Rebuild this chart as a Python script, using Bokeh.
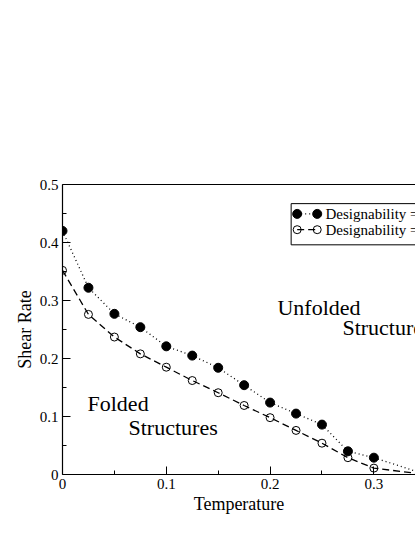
from bokeh.plotting import figure
from bokeh.models import Range1d, LinearAxis, FixedTicker, ColumnDataSource
from bokeh.core.properties import value
from bokeh.embed import file_html
from bokeh.resources import INLINE

# ---- data ----
temperature = [0.0, 0.025, 0.05, 0.075, 0.1, 0.125, 0.15, 0.175, 0.2, 0.225, 0.25, 0.275, 0.3]
shear_filled = [0.420, 0.322, 0.277, 0.254, 0.221, 0.205, 0.184, 0.154, 0.124, 0.105, 0.086, 0.040, 0.029]
shear_open = [0.352, 0.276, 0.237, 0.208, 0.185, 0.162, 0.141, 0.119, 0.098, 0.076, 0.054, 0.029, 0.011]
# lines continue past the last marker down to the axis
tail_temperature = [0.35]
tail_filled = [0.0]
tail_open = [0.0]

x_ticks = [0.0, 0.1, 0.2, 0.3]
x_tick_labels = ["0", "0.1", "0.2", "0.3"]
y_ticks = [0.0, 0.1, 0.2, 0.3, 0.4, 0.5]
y_tick_labels = ["0", "0.1", "0.2", "0.3", "0.4", "0.5"]
legend_labels = ["Designability =", "Designability ="]
region_labels = ["Unfolded", "Structures", "Folded", "Structures"]

FONT = "'Liberation Serif', 'Times New Roman', serif"

p = figure(width=415, height=537, output_backend="svg", toolbar_location=None,
           x_range=Range1d(0, 0.3401), y_range=Range1d(0, 0.5),
           min_border_left=62, min_border_right=0, min_border_top=184, min_border_bottom=63)
p.outline_line_color = None
p.grid.visible = False
p.background_fill_color = "white"
p.border_fill_color = "white"

for ax, ticks, labels in ((p.xaxis[0], x_ticks, x_tick_labels), (p.yaxis[0], y_ticks, y_tick_labels)):
    minors = [t + 0.05 for t in ticks] + [t - 0.05 for t in ticks]
    ax.ticker = FixedTicker(ticks=ticks, minor_ticks=sorted(set(round(m, 3) for m in minors)))
    ax.major_label_overrides = {t: l for t, l in zip(ticks, labels)}
    ax.major_tick_in = 8
    ax.major_tick_out = 0
    ax.minor_tick_in = 4
    ax.minor_tick_out = 0
    ax.axis_line_color = "black"
    ax.axis_line_width = 1.2
    ax.major_tick_line_color = "black"
    ax.minor_tick_line_color = "black"
    ax.major_label_text_font = FONT
    ax.major_label_text_font_size = "15px"
    ax.major_label_text_color = "black"
    ax.axis_label_text_font = FONT
    ax.axis_label_text_font_size = "18px"
    ax.axis_label_text_font_style = "normal"
    ax.axis_label_text_color = "black"
    ax.major_label_standoff = 4
    ax.axis_label_standoff = 2

p.xaxis.axis_label = "Temperature"
p.yaxis.axis_label = "Shear Rate"

top = LinearAxis(ticker=FixedTicker(ticks=[], minor_ticks=[]),
                 major_tick_in=0, major_tick_out=0, minor_tick_in=0, minor_tick_out=0,
                 axis_line_color="black", axis_line_width=1.2)
p.add_layout(top, "above")

# ---- series ----
src = ColumnDataSource(dict(t=temperature, f=shear_filled, o=shear_open))
p.line(temperature + tail_temperature, shear_filled + tail_filled, line_color="black",
       line_width=1.3, line_dash="1 3")
p.line(temperature + tail_temperature, shear_open + tail_open, line_color="black",
       line_width=1.3, line_dash="7 4")
p.scatter("t", "f", source=src, size=9, marker="circle", fill_color="black", line_color="black")
p.scatter("t", "o", source=src, size=8, marker="circle", fill_alpha=0, line_color="black", line_width=1)

# ---- legend drawn in the plot, clipped by the frame edge ----
lx0, lx1 = 0.2203, 0.40
ly_top, ly_bot = 0.467, 0.396
p.quad(left=[lx0], right=[lx1], top=[ly_top], bottom=[ly_bot], fill_color="white",
       line_color="black", line_width=1)
row_y = [0.4493, 0.4221]
mx = [0.2261, 0.2454]
p.line(mx, [row_y[0]] * 2, line_color="black", line_width=1.3, line_dash="1 3")
p.line(mx, [row_y[1]] * 2, line_color="black", line_width=1.3, line_dash="7 4")
p.scatter(mx, [row_y[0]] * 2, size=9, fill_color="black", line_color="black")
p.scatter(mx, [row_y[1]] * 2, size=8, fill_alpha=0, line_color="black")
p.text(x=[0.2534, 0.2534], y=row_y, text=legend_labels, text_font=value(FONT),
       text_font_size="15px", text_align="left", text_baseline="middle", text_color="black")

# ---- region labels ----
p.text(x=[0.2071, 0.2697, 0.0241, 0.0636], y=[0.2872, 0.2526, 0.1228, 0.0813],
       text=region_labels, text_font=value(FONT), text_font_size="22px",
       text_align="left", text_baseline="middle", text_color="black")

open("out.html", "w").write(file_html(p, INLINE))
